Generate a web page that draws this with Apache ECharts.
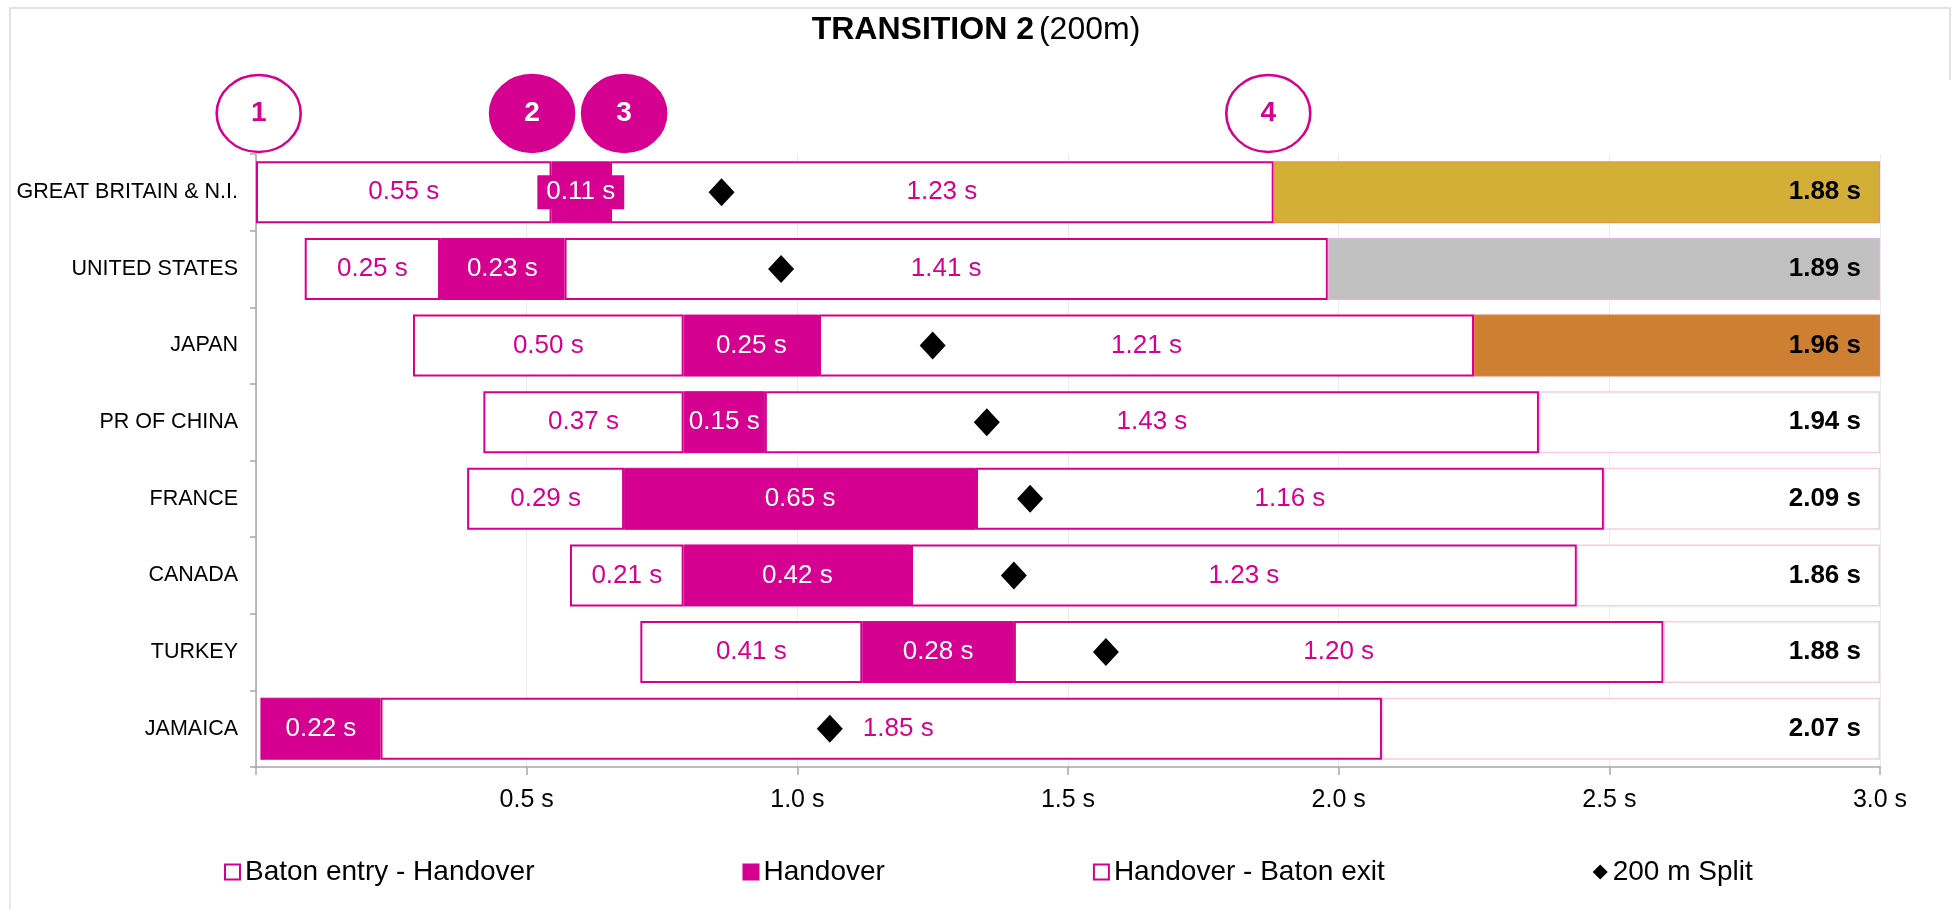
<!DOCTYPE html>
<html>
<head>
<meta charset="utf-8">
<script src="https://cdn.jsdelivr.net/npm/echarts@6/dist/echarts.min.js"></script>
<style>
html,body{margin:0;padding:0;background:#fff;}
#chart{width:1952px;height:910px;}
</style>
</head>
<body>
<div id="chart"></div>
<script>
// ---- data ----
const countries = ['GREAT BRITAIN & N.I.', 'UNITED STATES', 'JAPAN', 'PR OF CHINA', 'FRANCE', 'CANADA', 'TURKEY', 'JAMAICA'];
const starts = [0.00, 0.09, 0.29, 0.42, 0.39, 0.58, 0.71, 0.01];
const entryToHandover = [0.546, 0.25, 0.50, 0.37, 0.29, 0.21, 0.41, 0];
const handover = [0.108, 0.23, 0.25, 0.15, 0.65, 0.42, 0.28, 0.22];
const handoverToExit = [1.226, 1.41, 1.21, 1.43, 1.16, 1.23, 1.20, 1.85];
const totals = [1.88, 1.89, 1.96, 1.94, 2.09, 1.86, 1.88, 2.07];
const split200 = [0.86, 0.97, 1.25, 1.35, 1.43, 1.40, 1.57, 1.06];
const medals = ['gold', 'silver', 'bronze', null, null, null, null, null];
const axisMin = 0, axisMax = 3.0, axisStep = 0.5;
const markerLabels = ['1', '2', '3', '4'];
const markerX = [0.005, 0.51, 0.68, 1.87];
const markerFilled = [false, true, true, false];
const seriesNames = ['Baton entry - Handover', 'Handover', 'Handover - Baton exit', '200 m Split'];

// ---- styles ----
const MAG = '#D5008F';
const FONT = "'Liberation Sans', Arial, Helvetica, sans-serif";
const medalFill = {gold: '#D4AF37', silver: '#C0C0C0', bronze: '#CD7F32'};
const medalBorder = {gold: '#E39A45', silver: '#E4B4D8', bronze: '#E07A40'};
const fmt = v => v.toFixed(2) + ' s';

const chart = echarts.init(document.getElementById('chart'));

const ends = starts.map((s, i) => s + entryToHandover[i] + handover[i] + handoverToExit[i]);
const remainder = ends.map(e => Math.max(0, axisMax - e));

const labelBase = {show: true, position: 'inside', fontSize: 26, fontFamily: FONT};

const option = {
  animation: false,
  textStyle: {fontFamily: FONT},
  title: {
    left: 'center', top: 9,
    text: '{b|TRANSITION 2} {n|(200m)}',
    textStyle: {
      rich: {
        b: {fontSize: 32, fontWeight: 'bold', color: '#000', fontFamily: FONT},
        n: {fontSize: 32, fontWeight: 'normal', color: '#000', fontFamily: FONT}
      }
    }
  },
  legend: {
    left: 219, top: 853,
    itemWidth: 15, itemHeight: 15, itemGap: 208,
    textStyle: {fontSize: 28, color: '#000', fontFamily: FONT},
    data: [
      {name: seriesNames[0], icon: 'rect'},
      {name: seriesNames[1], icon: 'rect'},
      {name: seriesNames[2], icon: 'rect'},
      {name: seriesNames[3], icon: 'diamond'}
    ]
  },
  graphic: [
    {type: 'polyline', silent: true, shape: {points: [[10, 80], [10, 8], [1950, 8], [1950, 80]]}, style: {stroke: '#D9D9D9', lineWidth: 1.5, fill: null}},
    {type: 'line', silent: true, shape: {x1: 10, y1: 80, x2: 10, y2: 910}, style: {stroke: '#E2E2E2', lineWidth: 1.5}}
  ],
  grid: [
    {left: 256, right: 72, top: 154, bottom: 143},
    {left: 256, right: 72, top: 75, height: 77}
  ],
  xAxis: [
    {
      type: 'value', gridIndex: 0, min: axisMin, max: axisMax, interval: axisStep,
      axisLine: {show: true, lineStyle: {color: '#A6A6A6', width: 1.5}},
      axisTick: {show: true, length: 8, lineStyle: {color: '#A6A6A6', width: 1.5}},
      splitLine: {show: true, lineStyle: {color: '#EBEBEB', width: 1}},
      axisLabel: {
        fontSize: 25, color: '#000', margin: 21, fontFamily: FONT,
        formatter: v => (v === 0 ? '' : v.toFixed(1) + ' s')
      }
    },
    {type: 'value', gridIndex: 1, min: axisMin, max: axisMax, show: false}
  ],
  yAxis: [
    {
      type: 'category', gridIndex: 0, data: countries, inverse: true,
      axisLine: {show: true, lineStyle: {color: '#A6A6A6', width: 1.5}},
      axisTick: {show: true, length: 6, lineStyle: {color: '#A6A6A6', width: 1.5}},
      axisLabel: {fontSize: 21.5, color: '#000', margin: 18, fontFamily: FONT},
      splitLine: {show: false}
    },
    {type: 'value', gridIndex: 1, min: 0, max: 1, show: false}
  ],
  series: [
    {
      name: 'offset', type: 'bar', stack: 't', barWidth: 62, silent: true,
      itemStyle: {color: 'transparent', borderWidth: 0},
      data: starts
    },
    {
      name: seriesNames[0], type: 'bar', stack: 't', barWidth: 62,
      itemStyle: {color: '#fff', borderColor: MAG, borderWidth: 2},
      label: Object.assign({}, labelBase, {color: MAG, formatter: p => (p.value ? fmt(p.value) : '')}),
      data: entryToHandover
    },
    {
      name: seriesNames[1], type: 'bar', stack: 't', barWidth: 62,
      itemStyle: {color: MAG, borderColor: MAG, borderWidth: 1},
      label: Object.assign({}, labelBase, {color: '#fff', formatter: p => fmt(p.value)}),
      data: handover.map((v, i) => i === 0
        ? {value: v, label: {backgroundColor: MAG, padding: [4, 9]}}
        : v)
    },
    {
      name: seriesNames[2], type: 'bar', stack: 't', barWidth: 62,
      itemStyle: {color: '#fff', borderColor: MAG, borderWidth: 2},
      label: Object.assign({}, labelBase, {color: MAG, formatter: p => fmt(p.value)}),
      data: handoverToExit.map((v, i) => i === 7 ? {value: v, label: {offset: [17, 0]}} : v)
    },
    {
      name: 'rest', type: 'bar', stack: 't', barWidth: 62, silent: true,
      label: {
        show: true, position: 'insideRight', distance: 19,
        fontSize: 26, fontWeight: 'bold', color: '#000', fontFamily: FONT,
        formatter: p => fmt(totals[p.dataIndex])
      },
      data: remainder.map((v, i) => ({
        value: v,
        itemStyle: medals[i]
          ? {color: medalFill[medals[i]], borderColor: medalBorder[medals[i]], borderWidth: 1.5}
          : {color: '#fff', borderColor: '#F5CBE8', borderWidth: 1.5}
      }))
    },
    {
      name: seriesNames[3], type: 'scatter', symbol: 'diamond', symbolSize: [26, 28], z: 5,
      itemStyle: {color: '#000', opacity: 1},
      data: split200.map((v, i) => [v, i])
    },
    {
      name: 'markers', type: 'scatter', xAxisIndex: 1, yAxisIndex: 1, silent: true,
      symbol: 'circle', symbolSize: [84, 77], clip: false,
      data: markerX.map((x, i) => ({
        value: [x, 0.5],
        name: markerLabels[i],
        itemStyle: markerFilled[i]
          ? {color: MAG, borderColor: MAG, borderWidth: 2.5, opacity: 1}
          : {color: '#fff', borderColor: MAG, borderWidth: 2.5, opacity: 1},
        label: {color: markerFilled[i] ? '#fff' : MAG}
      })),
      label: {show: true, position: 'inside', fontSize: 28, fontWeight: 'bold', fontFamily: FONT, formatter: p => p.name}
    }
  ]
};
chart.setOption(option);
</script>
</body>
</html>
